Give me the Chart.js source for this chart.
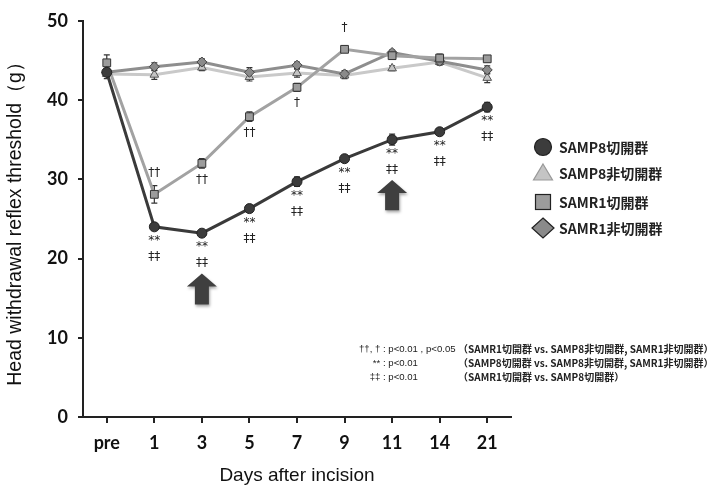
<!DOCTYPE html>
<html>
<head>
<meta charset="utf-8">
<script src="https://cdn.jsdelivr.net/npm/chart.js@4/dist/chart.umd.min.js"></script>
<style>
  html, body { margin: 0; padding: 0; background: #fff; }
  #wrap { width: 714px; height: 491px; }
</style>
</head>
<body>
<div id="wrap"><canvas id="chart" width="714" height="491"></canvas></div>
<script>
// days after incision
const days = ['pre', '1', '3', '5', '7', '9', '11', '14', '21'];

// mean threshold (g)
const samp8Inc = [43.5, 24.0, 23.2, 26.3, 29.7, 32.6, 35.0, 36.0, 39.1];
const samp8Sham = [43.3, 43.2, 44.1, 42.9, 43.4, 43.1, 44.0, 44.8, 42.8];
const samr1Inc = [44.7, 28.1, 32.0, 37.9, 41.6, 46.4, 45.6, 45.3, 45.2];
const samr1Sham = [43.5, 44.2, 44.8, 43.5, 44.4, 43.3, 46.0, 44.9, 43.8];

// error (SEM)
const samp8IncErr = [0.5, 0.4, 0.3, 0.4, 0.6, 0.4, 0.7, 0.4, 0.6];
const samp8ShamErr = [0.6, 0.6, 0.4, 0.5, 0.5, 0.4, 0.3, 0.4, 0.6];
const samr1IncErr = [1.0, 1.1, 0.6, 0.6, 0.5, 0.4, 0.4, 0.5, 0.4];
const samr1ShamErr = [0.4, 0.5, 0.4, 0.6, 0.4, 0.4, 0.3, 0.4, 0.5];

const seriesNames = ['SAMP8切開群', 'SAMP8非切開群', 'SAMR1切開群', 'SAMR1非切開群'];

// significance marks
const sigR1 = ['', '††', '††', '††', '†', '†', '', '', ''];
const sigR1Above = [false, true, false, false, false, true, false, false, false];
const sigP8Star = ['', '**', '**', '**', '**', '**', '**', '**', '**'];
const sigP8Dagger = ['', '‡‡', '‡‡', '‡‡', '‡‡', '‡‡', '‡‡', '‡‡', '‡‡'];

// arrows (day, top value, bottom value)
const arrowDays = ['3', '11'];
const arrowTop = [18.1, 29.9];
const arrowBottom = [14.2, 26.1];

// notes
const notesLeft = ['††, † ', '** ', '‡‡ '];
const notesMid = [': p<0.01 , p<0.05', ': p<0.01', ': p<0.01'];
const notesRight = [
  '（SAMR1切開群 vs. SAMP8非切開群, SAMR1非切開群）',
  '（SAMP8切開群 vs. SAMP8非切開群, SAMR1非切開群）',
  '（SAMR1切開群 vs. SAMP8切開群）',
];

const COLORS = {
  p8inc: { line: '#3a3a3a', fill: '#3c3c3c', border: '#222' },
  p8sham: { line: '#c9c9c9', fill: '#c4c4c4', border: '#555' },
  r1inc: { line: '#a2a2a2', fill: '#9c9c9c', border: '#333' },
  r1sham: { line: '#8e8e8e', fill: '#8a8a8a', border: '#444' },
};

const errors = [samp8IncErr, samp8ShamErr, samr1IncErr, samr1ShamErr];
const jpFont = '"Noto Sans CJK JP", "Liberation Sans", sans-serif';

const errorBars = {
  id: 'errorBars',
  beforeDatasetsDraw(chart) {
    const { ctx } = chart;
    const y = chart.scales.y;
    ctx.save();
    ctx.strokeStyle = '#333';
    ctx.lineWidth = 1.2;
    chart.data.datasets.forEach((ds, i) => {
      const meta = chart.getDatasetMeta(i);
      meta.data.forEach((pt, j) => {
        const v = ds.data[j];
        const e = errors[i][j];
        const y1 = y.getPixelForValue(v + e);
        const y2 = y.getPixelForValue(v - e);
        ctx.beginPath();
        ctx.moveTo(pt.x, y1); ctx.lineTo(pt.x, y2);
        ctx.moveTo(pt.x - 3, y1); ctx.lineTo(pt.x + 3, y1);
        ctx.moveTo(pt.x - 3, y2); ctx.lineTo(pt.x + 3, y2);
        ctx.stroke();
      });
    });
    ctx.restore();
  },
};

function drawArrow(ctx, cx, top, bottom) {
  const headW = 15;
  const shaftW = 7;
  const headH = 13;
  ctx.beginPath();
  ctx.moveTo(cx, top);
  ctx.lineTo(cx + headW, top + headH);
  ctx.lineTo(cx + shaftW, top + headH);
  ctx.lineTo(cx + shaftW, bottom);
  ctx.lineTo(cx - shaftW, bottom);
  ctx.lineTo(cx - shaftW, top + headH);
  ctx.lineTo(cx - headW, top + headH);
  ctx.closePath();
  ctx.fill();
}

const annotations = {
  id: 'annotations',
  afterDraw(chart) {
    const { ctx } = chart;
    const x = chart.scales.x;
    const y = chart.scales.y;
    ctx.save();
    ctx.fillStyle = '#222';
    ctx.textAlign = 'center';
    ctx.textBaseline = 'middle';
    ctx.font = '12px "DejaVu Sans", sans-serif';

    const r1Meta = chart.getDatasetMeta(2);
    sigR1.forEach((s, j) => {
      if (!s) return;
      const pt = r1Meta.data[j];
      ctx.fillText(s, pt.x, pt.y + (sigR1Above[j] ? -21 : 16));
    });
    const p8Meta = chart.getDatasetMeta(0);
    sigP8Star.forEach((s, j) => {
      if (!s) return;
      const pt = p8Meta.data[j];
      ctx.fillText(s, pt.x, pt.y + 14);
      ctx.fillText(sigP8Dagger[j], pt.x, pt.y + 30);
    });

    // arrows
    ctx.shadowColor = 'rgba(0,0,0,0.35)';
    ctx.shadowBlur = 3;
    ctx.shadowOffsetX = 1;
    ctx.shadowOffsetY = 2;
    ctx.fillStyle = '#3f3f3f';
    arrowDays.forEach((d, i) => {
      const cx = x.getPixelForValue(days.indexOf(d));
      drawArrow(ctx, cx, y.getPixelForValue(arrowTop[i]), y.getPixelForValue(arrowBottom[i]));
    });
    ctx.shadowColor = 'transparent';

    // legend
    const lx = 543;
    const ly = [147, 173, 202, 228];
    ctx.lineWidth = 1.2;
    // circle
    ctx.fillStyle = COLORS.p8inc.fill; ctx.strokeStyle = '#222';
    ctx.beginPath(); ctx.arc(lx, ly[0], 8.5, 0, Math.PI * 2); ctx.fill(); ctx.stroke();
    // triangle
    ctx.fillStyle = '#c4c4c4'; ctx.strokeStyle = '#999';
    ctx.beginPath(); ctx.moveTo(lx, ly[1] - 9); ctx.lineTo(lx + 9.5, ly[1] + 7); ctx.lineTo(lx - 9.5, ly[1] + 7); ctx.closePath(); ctx.fill(); ctx.stroke();
    // square
    ctx.fillStyle = COLORS.r1inc.fill; ctx.strokeStyle = '#222';
    ctx.fillRect(lx - 7.5, ly[2] - 7.5, 15, 15); ctx.strokeRect(lx - 7.5, ly[2] - 7.5, 15, 15);
    // diamond
    ctx.fillStyle = COLORS.r1sham.fill; ctx.strokeStyle = '#222';
    ctx.beginPath(); ctx.moveTo(lx, ly[3] - 10); ctx.lineTo(lx + 11, ly[3]); ctx.lineTo(lx, ly[3] + 10); ctx.lineTo(lx - 11, ly[3]); ctx.closePath(); ctx.fill(); ctx.stroke();

    ctx.fillStyle = '#222';
    ctx.textAlign = 'left';
    ctx.font = 'bold 14px ' + jpFont;
    seriesNames.forEach((n, i) => ctx.fillText(n, 559, ly[i] + 1));

    // notes
    const noteY = [349, 363, 377];
    ctx.font = '9.6px "Liberation Sans", sans-serif';
    notesLeft.forEach((t, i) => {
      ctx.textAlign = 'right';
      ctx.fillText(t, 383, noteY[i]);
      ctx.textAlign = 'left';
      ctx.fillText(notesMid[i], 383, noteY[i]);
    });
    ctx.font = 'bold 10px ' + jpFont;
    notesRight.forEach((t, i) => {
      ctx.fillText(t, 458, noteY[i]);
    });
    ctx.restore();
  },
};

const datasets = [
  {
    label: seriesNames[0], data: samp8Inc,
    borderColor: COLORS.p8inc.line, backgroundColor: COLORS.p8inc.fill,
    pointStyle: 'circle', pointRadius: 5, pointBorderColor: COLORS.p8inc.border,
  },
  {
    label: seriesNames[1], data: samp8Sham,
    borderColor: COLORS.p8sham.line, backgroundColor: COLORS.p8sham.fill,
    pointStyle: 'triangle', pointRadius: 5, pointBorderColor: COLORS.p8sham.border,
  },
  {
    label: seriesNames[2], data: samr1Inc,
    borderColor: COLORS.r1inc.line, backgroundColor: COLORS.r1inc.fill,
    pointStyle: 'rect', pointRadius: 5.5, pointBorderColor: COLORS.r1inc.border,
  },
  {
    label: seriesNames[3], data: samr1Sham,
    borderColor: COLORS.r1sham.line, backgroundColor: COLORS.r1sham.fill,
    pointStyle: 'rectRot', pointRadius: 5, pointBorderColor: COLORS.r1sham.border,
  },
].map((d) => ({ ...d, borderWidth: 3, pointBorderWidth: 1, tension: 0, fill: false }));

// draw lower series last so the dark line sits on top
datasets.forEach((d, i) => { d.order = [0, 3, 1, 2][i]; });

new Chart(document.getElementById('chart'), {
  type: 'line',
  data: { labels: days, datasets },
  plugins: [errorBars, annotations],
  options: {
    responsive: false,
    animation: false,
    layout: { padding: { top: 16, right: 203, left: 0, bottom: 0 } },
    plugins: { legend: { display: false }, tooltip: { enabled: false } },
    scales: {
      x: {
        offset: true,
        grid: { offset: false, drawOnChartArea: false, drawTicks: true, tickLength: 6, color: '#222', lineWidth: 2 },
        border: { color: '#222', width: 2 },
        ticks: { color: '#111', font: { family: 'Lato', weight: 'bold', size: 18 }, padding: 9 },
        title: { display: true, text: 'Days after incision', color: '#111', font: { family: 'Liberation Sans', size: 19 }, padding: { top: 11 } },
        afterFit(scale) { scale.height = 74; },
      },
      y: {
        min: 0, max: 50,
        ticks: { stepSize: 10, color: '#111', font: { family: 'Lato', weight: 'bold', size: 18 }, padding: 10 },
        grid: { drawOnChartArea: false, drawTicks: true, tickLength: 5, color: '#222', lineWidth: 2 },
        border: { color: '#222', width: 2 },
        title: { display: true, text: 'Head withdrawal reflex threshold（g）', color: '#111', font: { family: 'Liberation Sans', size: 19.5 }, padding: { bottom: 4 } },
        afterFit(scale) { scale.width = 83; },
      },
    },
  },
});
</script>
</body>
</html>
